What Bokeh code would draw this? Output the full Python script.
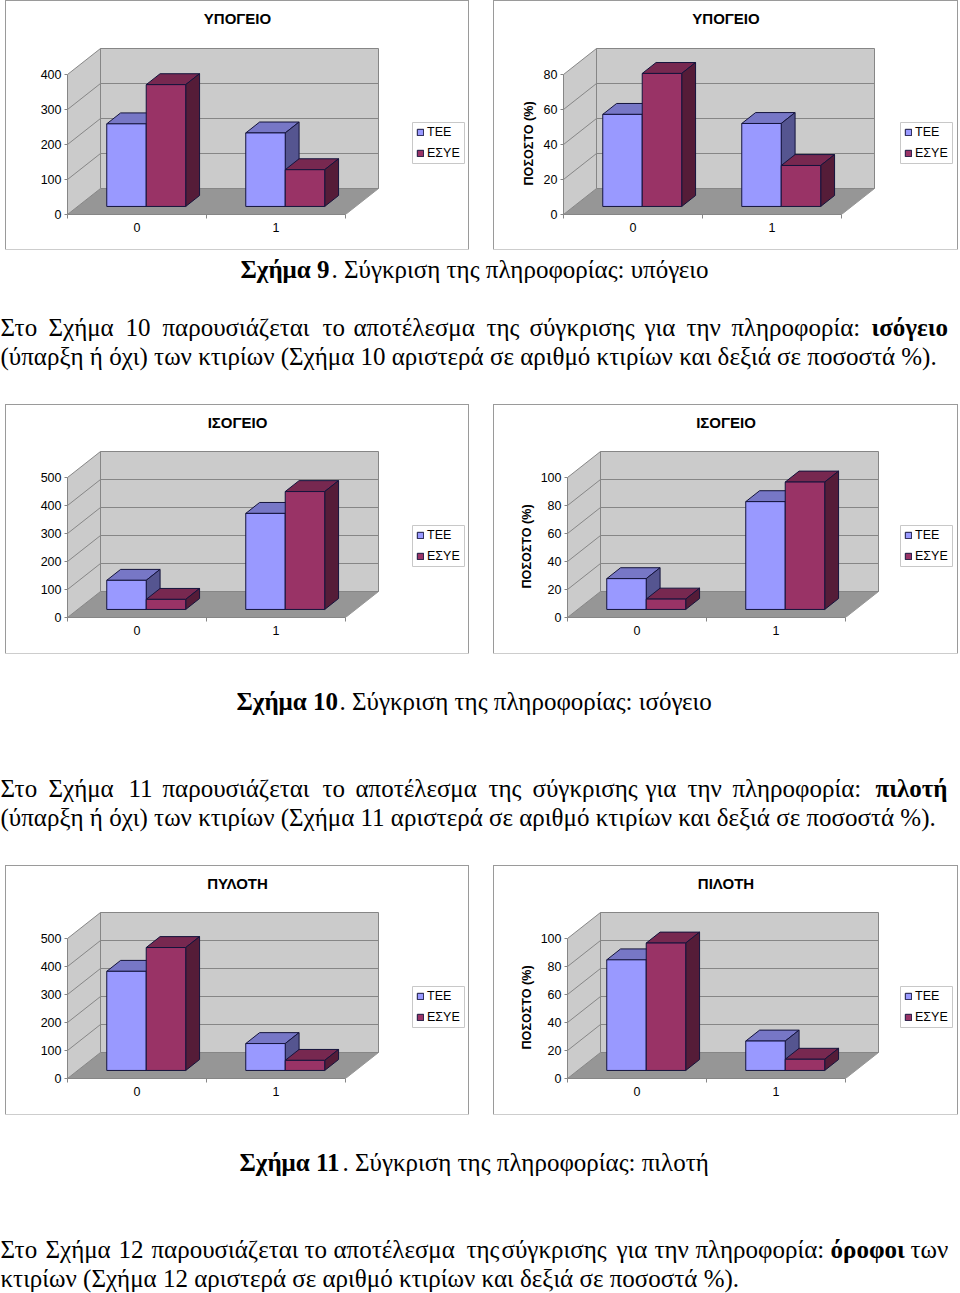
from bokeh.embed import file_html
from bokeh.resources import INLINE
from bokeh.plotting import figure
from bokeh.layouts import column, row
from bokeh.models import (ColumnDataSource, FixedTicker, Label, Legend, LegendItem, Range1d, Spacer, Title)
from bokeh.core.properties import value

# ---- chart data
series_names = ["ΤΕΕ", "ΕΣΥΕ"]
categories = ["0", "1"]
ypogeio_count = [[236, 210], [348, 105]]
ypogeio_pct = [[52.6, 47.4], [76, 23.4]]
isogeio_count = [[104, 343], [36, 421]]
isogeio_pct = [[22, 77], [7.4, 91]]
piloti_count = [[354, 96], [439, 36]]
piloti_pct = [[79, 21], [91, 8]]

ticks_400 = [0, 100, 200, 300, 400]
ticks_80 = [0, 20, 40, 60, 80]
ticks_500 = [0, 100, 200, 300, 400, 500]
ticks_100 = [0, 20, 40, 60, 80, 100]

FRONT = ["#9999FF", "#993366"]
TOP = ["#7777C6", "#772850"]
SIDE = ["#555590", "#551C38"]
EDGE = "#14143C"
WALL = "#CBCBCB"
FLOOR = "#969696"
AXIS = "#868686"
SANS = "Liberation Sans"
SERIF = "Liberation Serif"

FLOOR_W = 278.0      # px, front edge of floor
PLOT_H = 140.0       # px, axis length
DEPTH_X = 33.0       # px
DEPTH_Y = 26.0       # px
BAR_Z0, BAR_Z1 = 0.31, 0.73
BAR_W = 0.284


def chart(title, data, ticks, left, width, frame_h, legend_x, ylabel=None, ylabel_gap=0, ylabel_off=27):
    height = 248
    ppx = FLOOR_W / 2          # px per category
    ppy = PLOT_H / ticks[-1]   # px per value
    frame_w = width - left
    p = figure(width=width, height=height, toolbar_location=None, output_backend="svg",
               x_range=Range1d(-0.5, -0.5 + frame_w / ppx),
               y_range=Range1d(0, frame_h / ppy),
               min_border_left=left, min_border_right=0, min_border_top=0,
               min_border_bottom=height - frame_h, outline_line_color=None,
               background_fill_color="white", border_fill_color="white",
               styles={"outline": "1px solid #9A9A9A"})
    p.grid.visible = False
    dx, dy = DEPTH_X / ppx, DEPTH_Y / ppy
    xa, xb, top = -0.5, 1.5, ticks[-1]

    def P(x, v, z):
        return x + z * dx, v + z * dy

    def poly(pts, fill, line=AXIS, lw=1):
        xs, ys = zip(*pts)
        p.patch(list(xs), list(ys), fill_color=fill, line_color=line, line_width=lw)

    # floor and walls
    poly([P(xa, 0, 0), P(xb, 0, 0), P(xb, 0, 1), P(xa, 0, 1)], FLOOR, FLOOR)
    poly([P(xa, 0, 0), P(xa, 0, 1), P(xa, top, 1), P(xa, top, 0)], WALL)
    poly([P(xa, 0, 1), P(xb, 0, 1), P(xb, top, 1), P(xa, top, 1)], WALL)
    for t in ticks[1:-1]:
        a, b, c = P(xa, t, 0), P(xa, t, 1), P(xb, t, 1)
        p.line([a[0], b[0], c[0]], [a[1], b[1], c[1]], line_color=AXIS, line_width=1)

    # bars
    fronts = []
    for c in range(len(categories)):
        for s in range(len(series_names)):
            v = data[s][c]
            x0 = c - BAR_W + s * BAR_W - 1 / ppx
            x1 = x0 + BAR_W
            poly([P(x0, v, BAR_Z0), P(x1, v, BAR_Z0), P(x1, v, BAR_Z1), P(x0, v, BAR_Z1)], TOP[s], EDGE)
            poly([P(x1, 0, BAR_Z0), P(x1, 0, BAR_Z1), P(x1, v, BAR_Z1), P(x1, v, BAR_Z0)], SIDE[s], EDGE)
            f0, f1 = P(x0, 0, BAR_Z0), P(x1, v, BAR_Z0)
            r = p.quad(left=[f0[0]], right=[f1[0]], bottom=[f0[1]], top=[f1[1]],
                       fill_color=FRONT[s], line_color=EDGE, line_width=1)
            if c == 0:
                fronts.append(r)

    # axes
    p.xaxis.ticker = FixedTicker(ticks=[0, 1], minor_ticks=[-0.5, 0.5, 1.5])
    p.xaxis.major_label_overrides = {0: categories[0], 1: categories[1]}
    p.xaxis.major_tick_line_color = None
    p.xaxis.minor_tick_in = 0
    p.xaxis.minor_tick_out = 4
    p.xaxis.minor_tick_line_color = AXIS
    p.xaxis.axis_line_color = AXIS
    p.xaxis.bounds = (xa, xb)
    p.xaxis.major_label_standoff = 2
    p.yaxis.ticker = FixedTicker(ticks=ticks)
    p.yaxis.major_tick_in = 0
    p.yaxis.major_tick_out = 3
    p.yaxis.minor_tick_line_color = None
    p.yaxis.major_tick_line_color = AXIS
    p.yaxis.axis_line_color = AXIS
    p.yaxis.bounds = (0, top)
    p.yaxis.major_label_standoff = 3
    for ax in (p.xaxis[0], p.yaxis[0]):
        ax.major_label_text_font = SANS
        ax.major_label_text_font_size = "12.5px"
        ax.major_label_text_color = "black"
    if ylabel:
        p.add_layout(Title(text=ylabel, align="left", offset=ylabel_off, standoff=ylabel_gap, text_font=SANS,
                           text_font_size="12.6px", text_font_style="bold", text_color="black"), "left")

    # title
    p.add_layout(Label(x=width / 2 - left, y=frame_h - 17, x_units="screen", y_units="screen",
                       text=title, text_font=SANS, text_font_size="15px", text_font_style="bold",
                       text_align="center", text_baseline="middle", text_color="black"))
    # legend: its frame, then the native legend inside it
    bx0, bx1 = legend_x - 5, legend_x + 47
    p.quad(left=[-0.5 + bx0 / ppx], right=[-0.5 + bx1 / ppx], bottom=[51 / ppy], top=[92 / ppy],
           fill_color="white", line_color="#C8C8C8", line_width=1)
    leg = Legend(items=[LegendItem(label=series_names[i], renderers=[fronts[i]]) for i in range(2)],
                 location=(legend_x - 1, 54), orientation="vertical",
                 glyph_width=8, glyph_height=8, label_standoff=3, spacing=7, padding=0, margin=0,
                 label_text_font=SANS, label_text_font_size="12.5px", label_text_color="black",
                 label_height=12, border_line_color=None, background_fill_alpha=0)
    p.add_layout(leg, "center")
    return p


def text_band(y0, y1, items):
    p = figure(width=960, height=y1 - y0, toolbar_location=None, output_backend="svg",
               x_range=Range1d(0, 960), y_range=Range1d(y1, y0),
               min_border=0, min_border_left=0, min_border_right=0, min_border_top=0, min_border_bottom=0,
               outline_line_color=None, background_fill_color="white", border_fill_color="white")
    p.axis.visible = False
    p.grid.visible = False
    for style in ("normal", "bold"):
        sel = [i for i in items if i[3] == style]
        if sel:
            src = ColumnDataSource(dict(x=[i[0] for i in sel], y=[i[1] for i in sel], t=[i[2] for i in sel]))
            p.text("x", "y", text="t", source=src, text_font=value(SERIF), text_font_size="25px",
                   text_font_style=style, text_baseline="middle", text_color="black")
    return p


def words(y, xs, ws, bold):
    return [(x, y, w, "bold" if w in bold else "normal") for x, w in zip(xs, ws)]


W1 = "Στο Σχήμα 10 παρουσιάζεται το αποτέλεσμα της σύγκρισης για την πληροφορία: ισόγειο".split()
W1x = [0, 48, 125, 162, 322, 353, 486, 529, 644, 686, 731, 871]
W2 = "Στο Σχήμα 11 παρουσιάζεται το αποτέλεσμα της σύγκρισης για την πληροφορία: πιλοτή".split()
W2x = [0, 48, 128, 162, 322, 355, 488, 532, 645, 687, 732, 875]
W3 = "Στο Σχήμα 12 παρουσιάζεται το αποτέλεσμα της σύγκρισης για την πληροφορία: όροφοι των".split()
W3x = [0, 45, 118, 151, 304, 333, 466, 501, 616, 654, 695, 830, 910]

band_a = [(240, 269, "Σχήμα 9", "bold"), (331, 269, ". Σύγκριση της πληροφορίας: υπόγειο", "normal"),
          (0, 356, "(ύπαρξη ή όχι) των κτιρίων (Σχήμα 10 αριστερά σε αριθμό κτιρίων και δεξιά σε ποσοστά %).", "normal")
          ] + words(327, W1x, W1, {"ισόγειο"})
band_b = [(236, 701, "Σχήμα 10", "bold"), (339, 701, ". Σύγκριση της πληροφορίας: ισόγειο", "normal"),
          (0, 817, "(ύπαρξη ή όχι) των κτιρίων (Σχήμα 11 αριστερά σε αριθμό κτιρίων και δεξιά σε ποσοστά %).", "normal")
          ] + words(788, W2x, W2, {"πιλοτή"})
band_c = [(239, 1162, "Σχήμα 11", "bold"), (342, 1162, ". Σύγκριση της πληροφορίας: πιλοτή", "normal"),
          (0, 1278, "κτιρίων (Σχήμα 12 αριστερά σε αριθμό κτιρίων και δεξιά σε ποσοστά %).", "normal")
          ] + words(1249, W3x, W3, {"όροφοι"})

YL = "ΠΟΣΟΣΤΟ (%)"
c1 = chart("ΥΠΟΓΕΙΟ", ypogeio_count, ticks_400, 61, 462, 213, 350)
c2 = chart("ΥΠΟΓΕΙΟ", ypogeio_pct, ticks_80, 69, 463, 213, 342, YL, 10, 29)
c3 = chart("ΙΣΟΓΕΙΟ", isogeio_count, ticks_500, 61, 462, 212, 350)
c4 = chart("ΙΣΟΓΕΙΟ", isogeio_pct, ticks_100, 73, 463, 212, 338, YL, 8, 29)
c5 = chart("ΠΥΛΟΤΗ", piloti_count, ticks_500, 61, 462, 212, 350)
c6 = chart("ΠΙΛΟΤΗ", piloti_pct, ticks_100, 73, 463, 212, 338, YL, 8, 29)


def chart_row(a, b):
    return row(Spacer(width=6, height=1), a, Spacer(width=26, height=1), b, spacing=0)


page = column(Spacer(width=960, height=1),
              chart_row(c1, c2), text_band(249, 405, band_a),
              chart_row(c3, c4), text_band(653, 866, band_b),
              chart_row(c5, c6), text_band(1114, 1293, band_c),
              spacing=0,
              styles={"position": "absolute", "left": "0px", "top": "0px"})

open("out.html", "w").write(file_html(page, INLINE))
